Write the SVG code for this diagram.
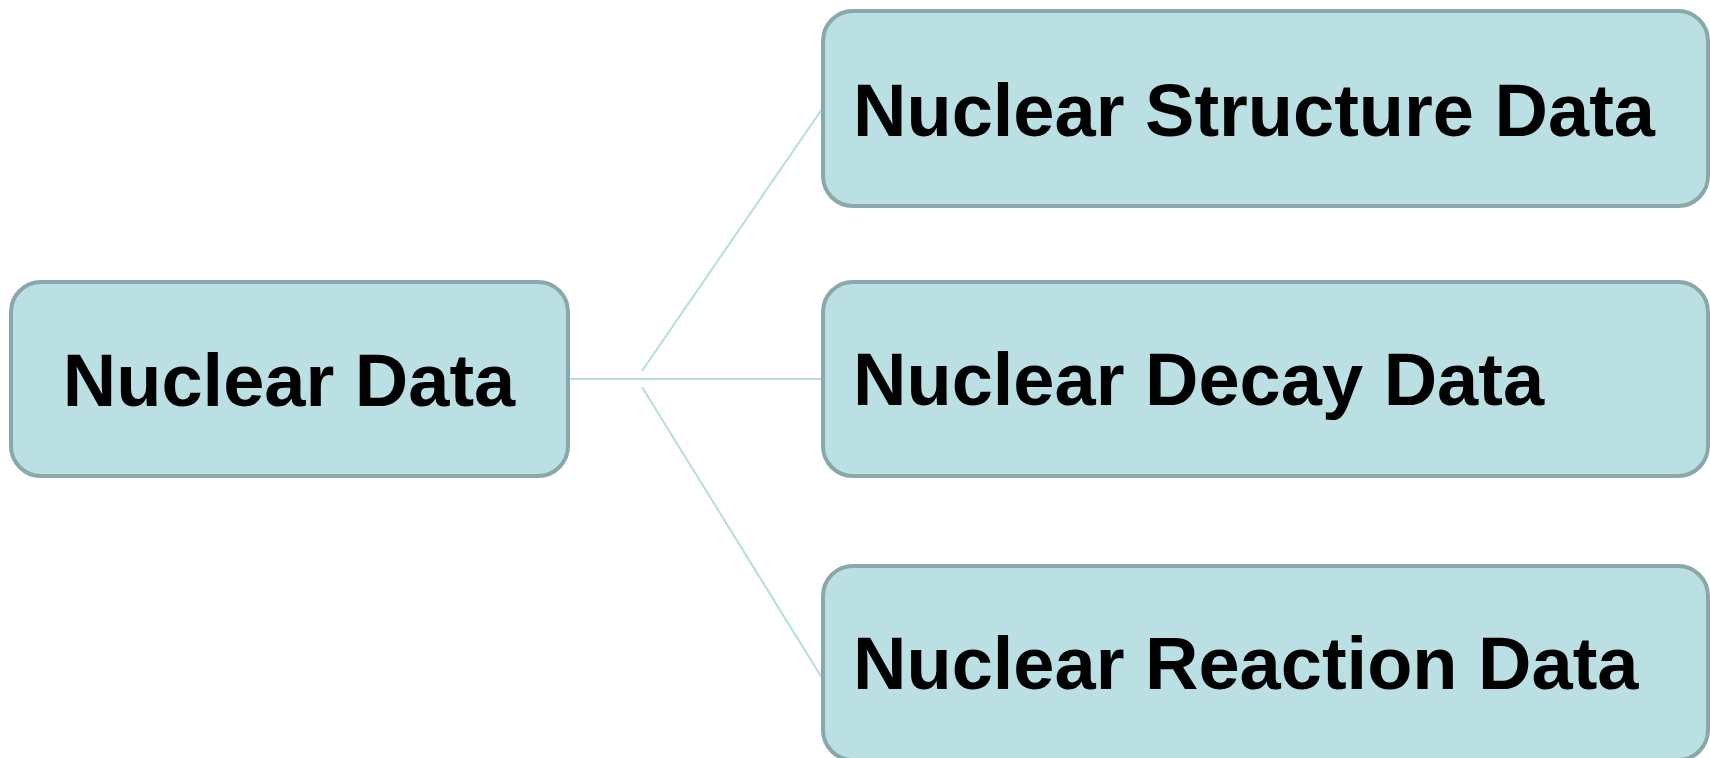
<svg xmlns="http://www.w3.org/2000/svg" width="1710" height="758" viewBox="0 0 1710 758">
<style>
.box{fill:#bbe0e3;stroke:#8aa8ab;stroke-width:4}
.lbl{font-family:"Liberation Sans",Arial,sans-serif;font-weight:bold;font-size:74px;fill:#000}
.conn{stroke:#b5dde2;stroke-width:2;fill:none}
</style>
<rect width="1710" height="758" fill="#ffffff"/>
<g id="connectors">
<line class="conn" x1="568" y1="379" x2="822" y2="379"/>
<line class="conn" x1="642" y1="371" x2="822" y2="109"/>
<line class="conn" x1="642" y1="387" x2="822" y2="678"/>
</g>
<g id="nuclear-data">
<rect class="box" x="11" y="282" width="557" height="194" rx="30"/>
<text class="lbl" x="289" y="406" text-anchor="middle">Nuclear Data</text>
</g>
<g id="nuclear-structure-data">
<rect class="box" x="823" y="11" width="885" height="195" rx="30"/>
<text class="lbl" x="853" y="136">Nuclear Structure Data</text>
</g>
<g id="nuclear-decay-data">
<rect class="box" x="823" y="282" width="885" height="194" rx="30"/>
<text class="lbl" x="853" y="405">Nuclear Decay Data</text>
</g>
<g id="nuclear-reaction-data">
<rect class="box" x="823" y="566" width="885" height="194" rx="30"/>
<text class="lbl" x="853" y="689">Nuclear Reaction Data</text>
</g>
</svg>
